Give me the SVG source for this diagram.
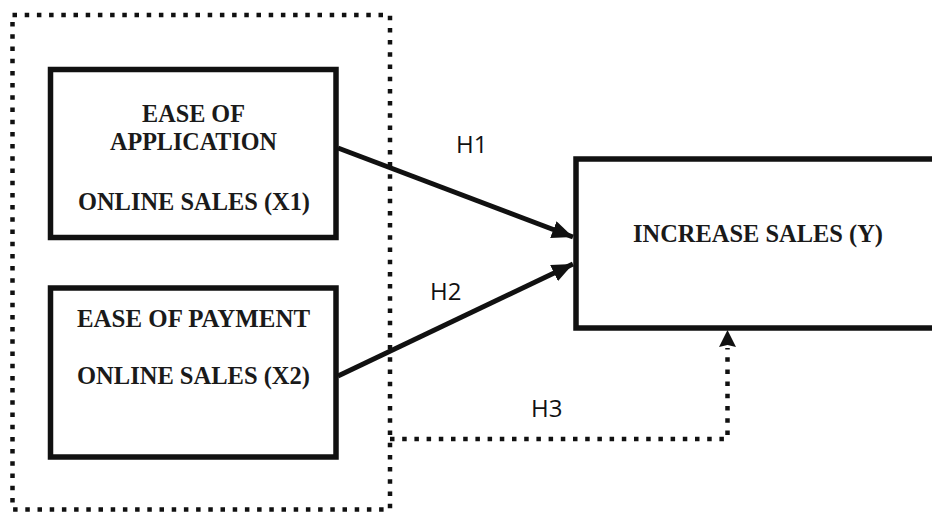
<svg xmlns="http://www.w3.org/2000/svg" width="932" height="514" viewBox="0 0 932 514">
<style>
.box{fill:#fff;stroke:#111;stroke-width:5.5}
.dot{fill:none;stroke:#111;stroke-width:4.5;stroke-dasharray:4.5 7.7}
.arr{fill:none;stroke:#111;stroke-width:5}
.t{font-family:"Liberation Serif","Times New Roman",serif;font-weight:bold;font-size:25px;fill:#1a1a1a;text-anchor:middle}
.h{font-family:"Open Sans","Liberation Sans",sans-serif;font-size:24px;fill:#111}
</style>
<defs>
<marker id="ah" markerUnits="userSpaceOnUse" markerWidth="22" markerHeight="18" viewBox="0 0 22 18" refX="21" refY="9" orient="auto">
<path d="M0,0 L21,9 L0,18 Z" fill="#111"/>
</marker>
</defs>
<rect width="932" height="514" fill="#fff"/>
<g id="group-x">
<rect x="12.5" y="15" width="377.5" height="494.5" class="dot"/>
</g>
<g id="x1">
<rect x="50.5" y="69.5" width="285.5" height="168" class="box"/>
<text class="t" x="193.5" y="122" textLength="103" lengthAdjust="spacingAndGlyphs">EASE OF</text>
<text class="t" x="193.5" y="150" textLength="167" lengthAdjust="spacingAndGlyphs">APPLICATION</text>
<text class="t" x="194" y="210" textLength="232" lengthAdjust="spacingAndGlyphs">ONLINE SALES (X1)</text>
</g>
<g id="x2">
<rect x="50.5" y="288" width="285.5" height="169" class="box"/>
<text class="t" x="193.5" y="327" textLength="233" lengthAdjust="spacingAndGlyphs">EASE OF PAYMENT</text>
<text class="t" x="193.5" y="384" textLength="233" lengthAdjust="spacingAndGlyphs">ONLINE SALES (X2)</text>
</g>
<g id="y">
<rect x="576" y="159" width="370" height="169" class="box"/>
<text class="t" x="758" y="242" textLength="250" lengthAdjust="spacingAndGlyphs">INCREASE SALES (Y)</text>
</g>
<g id="connectors">
<path class="arr" d="M338,148 L573,237" marker-end="url(#ah)"/>
<path class="arr" d="M338,376 L573,264" marker-end="url(#ah)"/>
<path class="dot" d="M390,439 H727.5 V348"/>
<path d="M727.5,330 L736,347 L727.5,345 L719,347 Z" fill="#111"/>
<text class="h" x="456" y="153">H1</text>
<text class="h" x="430" y="300">H2</text>
<text class="h" x="531" y="417">H3</text>
</g>
</svg>
